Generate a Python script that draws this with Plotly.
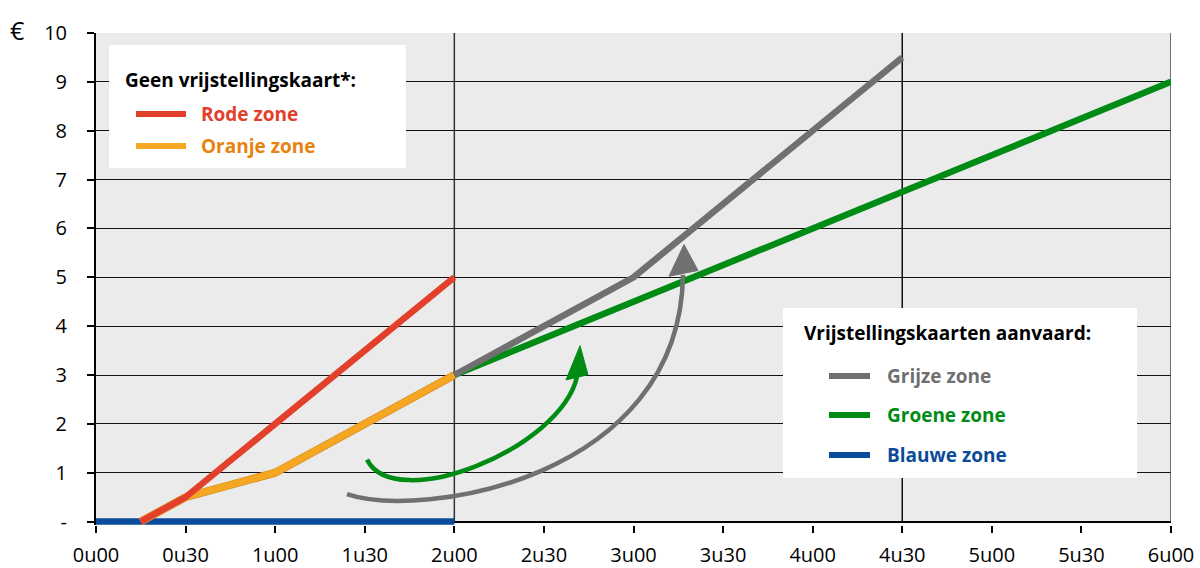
import plotly.graph_objects as go

# ---------------- data ----------------
x_tickvals = [0, 0.5, 1, 1.5, 2, 2.5, 3, 3.5, 4, 4.5, 5, 5.5, 6]
x_ticktext = ["0u00", "0u30", "1u00", "1u30", "2u00", "2u30", "3u00",
              "3u30", "4u00", "4u30", "5u00", "5u30", "6u00"]
y_tickvals = [0, 1, 2, 3, 4, 5, 6, 7, 8, 9, 10]
y_ticktext = ["-", "1", "2", "3", "4", "5", "6", "7", "8", "9", "10"]

blue_x = [0, 2]
blue_y = [0, 0]
orange_x = [0.25, 0.5, 1.0, 2.0]
orange_y = [0, 0.5, 1.0, 3.0]
red_x = [0.25, 0.5, 1.0, 2.0]
red_y = [0, 0.5, 2.0, 5.0]
green_x = [2, 6]
green_y = [3, 9]
grey_x = [2, 3, 4.5]
grey_y = [3, 5, 9.5]

# ---------------- styles ----------------
RED = "#E2402A"
ORANGE_LINE = "#F5A623"
ORANGE_TXT = "#E8820E"
GREY = "#707070"
GREEN = "#008C14"
BLUE = "#0B4C9A"
FONT = "Open Sans"

W, H = 1200, 568
ML, MR, MT, MB = 96, 29, 33, 43
PW, PH = W - ML - MR, H - MT - MB


def pxx(p):
    return (p - ML) / PW


def pxy(p):
    return (H - MB - p) / PH


fig = go.Figure()

fig.add_trace(go.Scatter(x=blue_x, y=blue_y, mode="lines", name="Blauwe zone",
                         line=dict(color=BLUE, width=6.5), showlegend=False))
fig.add_trace(go.Scatter(x=orange_x, y=orange_y, mode="lines", name="Oranje zone (rand)",
                         line=dict(color="#D99020", width=8), showlegend=False, hoverinfo="skip"))
fig.add_trace(go.Scatter(x=orange_x, y=orange_y, mode="lines", name="Oranje zone",
                         line=dict(color=ORANGE_LINE, width=6.5), showlegend=False))
fig.add_trace(go.Scatter(x=red_x, y=red_y, mode="lines", name="Rode zone",
                         line=dict(color=RED, width=6.5), showlegend=False))
fig.add_trace(go.Scatter(x=green_x, y=green_y, mode="lines", name="Groene zone",
                         line=dict(color=GREEN, width=6.5), showlegend=False))
fig.add_trace(go.Scatter(x=grey_x, y=grey_y, mode="lines", name="Grijze zone",
                         line=dict(color=GREY, width=6.5), showlegend=False))

shapes = []
# white strip below zero line (hide bg under axis)
shapes.append(dict(type="rect", xref="paper", yref="y", x0=0, x1=1, y0=-0.07, y1=-0.022,
                   fillcolor="white", line=dict(width=0), layer="between"))
# vertical grid lines
for xv, col in [(2, "#333333"), (4.5, "#111111"), (6, "#444444")]:
    shapes.append(dict(type="line", xref="x", yref="y", x0=xv, x1=xv, y0=0, y1=10,
                       line=dict(color=col, width=1.5), layer="between"))

# curved arrows (data coordinates)
green_path = "M 1.5126,1.268 C 1.6688,0.143 2.5898,1.472 2.6847,2.965"
grey_path = "M 1.4009,0.56 C 1.8084,0.05 3.2595,0.85 3.2763,5.05"
shapes.append(dict(type="path", xref="x", yref="y", path=grey_path,
                   line=dict(color=GREY, width=4.5), layer="above"))
shapes.append(dict(type="path", xref="x", yref="y",
                   path="M 3.2819,5.67 L 3.1981,5.02 L 3.3600,5.14 Z",
                   fillcolor=GREY, line=dict(color=GREY, width=1), layer="above"))
shapes.append(dict(type="path", xref="x", yref="y", path=green_path,
                   line=dict(color=GREEN, width=4.5), layer="above"))
shapes.append(dict(type="path", xref="x", yref="y",
                   path="M 2.7014,3.60 L 2.6233,2.90 L 2.7460,3.006 Z",
                   fillcolor=GREEN, line=dict(color=GREEN, width=1), layer="above"))

# legend boxes
shapes.append(dict(type="rect", xref="paper", yref="paper",
                   x0=pxx(109), x1=pxx(406), y0=pxy(168), y1=pxy(45),
                   fillcolor="white", line=dict(width=0), layer="above"))
shapes.append(dict(type="rect", xref="paper", yref="paper",
                   x0=pxx(783), x1=pxx(1137), y0=pxy(478), y1=pxy(308),
                   fillcolor="white", line=dict(width=0), layer="above"))

annotations = []


def legend_item(xs0, xs1, xt, yc, color, text, txtcolor):
    shapes.append(dict(type="line", xref="paper", yref="paper",
                       x0=pxx(xs0), x1=pxx(xs1), y0=pxy(yc), y1=pxy(yc),
                       line=dict(color=color, width=6), layer="above"))
    annotations.append(dict(xref="paper", yref="paper", x=pxx(xt), y=pxy(yc),
                            xanchor="left", yanchor="middle", showarrow=False,
                            text="<b>" + text + "</b>",
                            font=dict(family=FONT, size=19, color=txtcolor)))


annotations.append(dict(xref="paper", yref="paper", x=pxx(123), y=pxy(80),
                        xanchor="left", yanchor="middle", showarrow=False,
                        text="<b>Geen vrijstellingskaart*:</b>",
                        font=dict(family=FONT, size=19, color="black")))
legend_item(136, 186, 199, 114, RED, "Rode zone", RED)
legend_item(136, 186, 199, 146, ORANGE_LINE, "Oranje zone", ORANGE_TXT)

annotations.append(dict(xref="paper", yref="paper", x=pxx(802), y=pxy(333),
                        xanchor="left", yanchor="middle", showarrow=False,
                        text="<b>Vrijstellingskaarten aanvaard:</b>",
                        font=dict(family=FONT, size=19, color="black")))
legend_item(829, 870, 885, 376, GREY, "Grijze zone", GREY)
legend_item(829, 870, 885, 415, GREEN, "Groene zone", GREEN)
legend_item(829, 870, 885, 455, BLUE, "Blauwe zone", BLUE)

annotations.append(dict(xref="paper", yref="paper", x=pxx(8), y=pxy(30),
                        xanchor="left", yanchor="middle", showarrow=False,
                        text="€", font=dict(family=FONT, size=25, color="black")))

fig.update_layout(
    width=W, height=H,
    margin=dict(l=ML, r=MR, t=MT, b=MB, autoexpand=False),
    paper_bgcolor="white",
    plot_bgcolor="#EBEBEB",
    showlegend=False,
    font=dict(family=FONT, size=20, color="black"),
    shapes=shapes,
    annotations=annotations,
    xaxis=dict(range=[0, 6], tickvals=x_tickvals, ticktext=x_ticktext,
               automargin=False,
               showgrid=False, zeroline=False, showline=False,
               ticks="outside", ticklen=7, tickwidth=1.5, tickcolor="black",
               ticklabelstandoff=5, tickfont=dict(family=FONT, size=20)),
    yaxis=dict(range=[-0.07, 10], tickvals=y_tickvals, ticktext=y_ticktext,
               automargin=False,
               showgrid=True, gridcolor="#111111", gridwidth=1.4,
               zeroline=True, zerolinecolor="black", zerolinewidth=2.2,
               showline=True, linecolor="black", linewidth=2,
               ticks="outside", ticklen=7, tickwidth=1.5, tickcolor="black",
               ticklabelstandoff=16, tickfont=dict(family=FONT, size=20)),
)

fig.write_html("out.html", config={"displayModeBar": False},
               post_script="document.body.style.margin='0px';document.body.style.padding='0px';")
